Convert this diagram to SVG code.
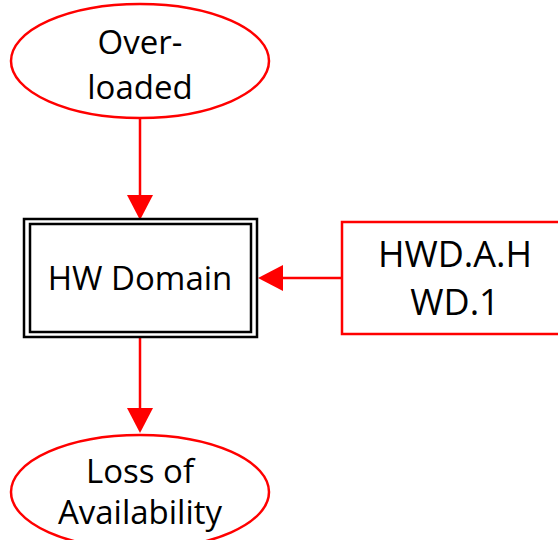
<svg xmlns="http://www.w3.org/2000/svg" width="558" height="540" viewBox="0 0 558 540">
<defs>
<style>
.red{fill:#fff;stroke:#ff0000;stroke-width:2.5}
.lbl{font-family:"Open Sans","Liberation Sans",sans-serif;font-size:33px;fill:#000;text-anchor:middle}
.big{font-size:36px}
.conn{stroke:#ff0000;stroke-width:2.5;fill:none}
</style>
</defs>
<rect width="558" height="540" fill="#fff"/>
<g id="connectors">
<line class="conn" x1="140" y1="118" x2="140" y2="196"/>
<path d="M127,195 L153,195 L140,220 Z" fill="#ff0000"/>
<line class="conn" x1="341" y1="278" x2="282" y2="278"/>
<path d="M283,265 L283,291 L258,278 Z" fill="#ff0000"/>
<line class="conn" x1="140" y1="338" x2="140" y2="409"/>
<path d="M127,408 L153,408 L140,433 Z" fill="#ff0000"/>
</g>
<g id="overloaded">
<ellipse class="red" cx="140" cy="61" rx="129" ry="57"/>
<text class="lbl" x="140" y="54">Over-</text>
<text class="lbl" x="140" y="99">loaded</text>
</g>
<g id="hw-domain">
<rect x="24" y="219" width="233" height="118" fill="#fff" stroke="#000" stroke-width="2.5"/>
<rect x="30" y="224" width="221" height="108" fill="none" stroke="#000" stroke-width="2.5"/>
<text class="lbl" x="140" y="290">HW Domain</text>
</g>
<g id="hwd-a-hwd-1">
<rect class="red" x="342" y="222" width="230" height="112"/>
<text class="lbl big" x="455" y="267">HWD.A.H</text>
<text class="lbl big" x="455" y="315">WD.1</text>
</g>
<g id="loss-of-availability">
<ellipse class="red" cx="140" cy="492" rx="129" ry="57"/>
<text class="lbl" x="140" y="483">Loss of</text>
<text class="lbl" x="140" y="524">Availability</text>
</g>
</svg>
